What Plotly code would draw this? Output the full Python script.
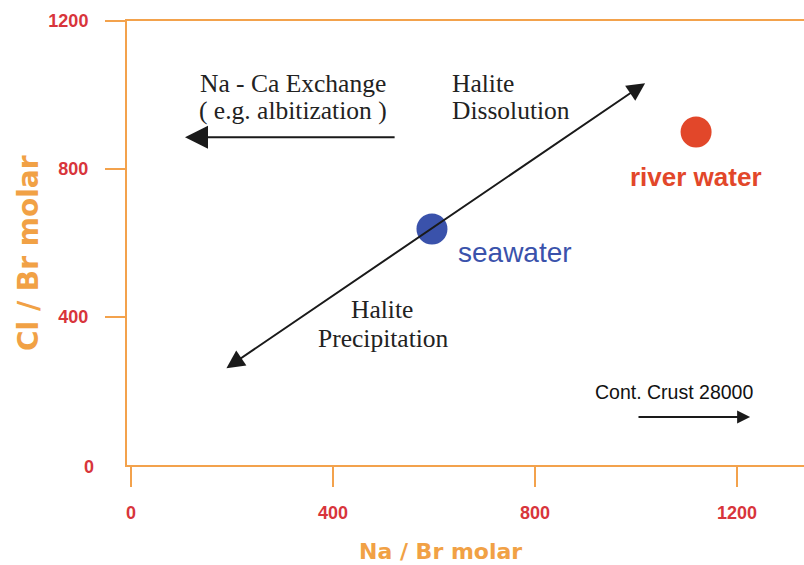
import plotly.graph_objects as go

# ---- data ----
sample_names = ["seawater", "river water"]
sample_na_br = [596, 1119]
sample_cl_br = [638, 900]

trend_na_br = [186, 1018]      # halite precipitation <-> dissolution
trend_cl_br = [259, 1032]
exchange_na_br = [525, 107]    # Na - Ca exchange arrow (tail, head)
exchange_cl_br = [886, 886]
crust_na_br = [1002, 1226]     # Cont. crust arrow (tail, head)
crust_cl_br = [130, 130]

x_ticks = [0, 400, 800, 1200]
y_ticks = [400, 800, 1200]

# ---- styles ----
AXIS = "#f3a24c"
TICKRED = "#d8353b"
TITLE = "#f1a145"
BLUE = "#3a52ab"
RED = "#e2472a"
INK = "#1a1a1a"
SERIF = "Liberation Serif"
SANS = "Liberation Sans"

W, H = 804, 565
L, R, T, B = 127, 0, 21, 100
pw, ph = W - L - R, H - T - B

fig = go.Figure()

fig.add_trace(go.Scatter(
    x=sample_na_br, y=sample_cl_br, mode="markers",
    marker=dict(size=31, color=[BLUE, RED], line=dict(width=0)),
    showlegend=False, hoverinfo="skip"))

ann = []
# arrows
ann.append(dict(x=trend_na_br[1], y=trend_cl_br[1], ax=trend_na_br[0], ay=trend_cl_br[0],
                xref="x", yref="y", axref="x", ayref="y", text="", showarrow=True,
                arrowside="end+start", arrowhead=2, arrowsize=1.8, arrowwidth=2,
                arrowcolor=INK))
ann.append(dict(x=exchange_na_br[1], y=exchange_cl_br[1], ax=exchange_na_br[0], ay=exchange_cl_br[0],
                xref="x", yref="y", axref="x", ayref="y", text="", showarrow=True,
                arrowhead=2, arrowsize=2.3, arrowwidth=2, arrowcolor=INK))
ann.append(dict(x=crust_na_br[1], y=crust_cl_br[1], ax=crust_na_br[0], ay=crust_cl_br[0],
                xref="x", yref="y", axref="x", ayref="y", text="", showarrow=True,
                arrowhead=2, arrowsize=1.3, arrowwidth=2, arrowcolor=INK))


def serif_text(x, y, s, anchor="center"):
    ann.append(dict(x=x, y=y, xref="x", yref="y", showarrow=False, xanchor=anchor,
                    yanchor="middle", text=s,
                    font=dict(family=SERIF, size=25.5, color="#222222")))


serif_text(321, 1032, "Na - Ca Exchange")
serif_text(321, 957, "( e.g. albitization )")
serif_text(632, 1032, "Halite", "left")
serif_text(632, 959, "Dissolution", "left")
serif_text(497, 419, "Halite")
serif_text(501, 343, "Precipitation")

ann.append(dict(x=644, y=573, xref="x", yref="y", showarrow=False, xanchor="left",
                yanchor="middle", text=sample_names[0],
                font=dict(family=SANS, size=28, color=BLUE)))
ann.append(dict(x=1119, y=778, xref="x", yref="y", showarrow=False, xanchor="center",
                yanchor="middle", text="<b>" + sample_names[1] + "</b>",
                font=dict(family=SANS, size=26, color=RED)))
ann.append(dict(x=1075, y=197, xref="x", yref="y", showarrow=False, xanchor="center",
                yanchor="middle", text="Cont. Crust 28000",
                font=dict(family=SANS, size=19.5, color="#111111")))
# y "0" label (no tick mark there)
ann.append(dict(x=0, y=0, xref="paper", yref="y", showarrow=False, xanchor="right",
                yanchor="middle", xshift=-31, yshift=-2, text="<b>0</b>",
                font=dict(family=SANS, size=18, color=TICKRED)))
# axis titles (positions in pixels converted to paper units)
ann.append(dict(x=(440 - L) / pw, y=(H - B - 551) / ph, xref="paper", yref="paper",
                showarrow=False, xanchor="center", yanchor="middle",
                text="<b>Na / Br molar</b>",
                font=dict(family="DejaVu Sans", size=22, color=TITLE)))
ann.append(dict(x=(28 - L) / pw, y=(H - B - 253) / ph, xref="paper", yref="paper",
                showarrow=False, xanchor="center", yanchor="middle", textangle=-90,
                text="<b>Cl / Br molar</b>",
                font=dict(family="DejaVu Sans", size=28, color=TITLE)))

fig.update_layout(
    width=W, height=H,
    margin=dict(l=L, r=R, t=T, b=B),
    paper_bgcolor="white", plot_bgcolor="white",
    annotations=ann,
    xaxis=dict(range=[-7.9, 1332.7], tickvals=x_ticks, ticks="outside", ticklen=20,
               tickwidth=2, tickcolor=AXIS, showline=True, linecolor=AXIS, linewidth=2,
               mirror=True, showgrid=False, zeroline=False, ticklabelstandoff=10,
               tickfont=dict(family=SANS, size=18, color=TICKRED, weight="bold")),
    yaxis=dict(range=[0, 1200], tickvals=y_ticks, ticks="outside", ticklen=20,
               tickwidth=2, tickcolor=AXIS, showline=True, linecolor=AXIS, linewidth=2,
               showgrid=False, zeroline=False, ticklabelstandoff=13,
               tickfont=dict(family=SANS, size=18, color=TICKRED, weight="bold")),
)

fig.write_html("out.html")
